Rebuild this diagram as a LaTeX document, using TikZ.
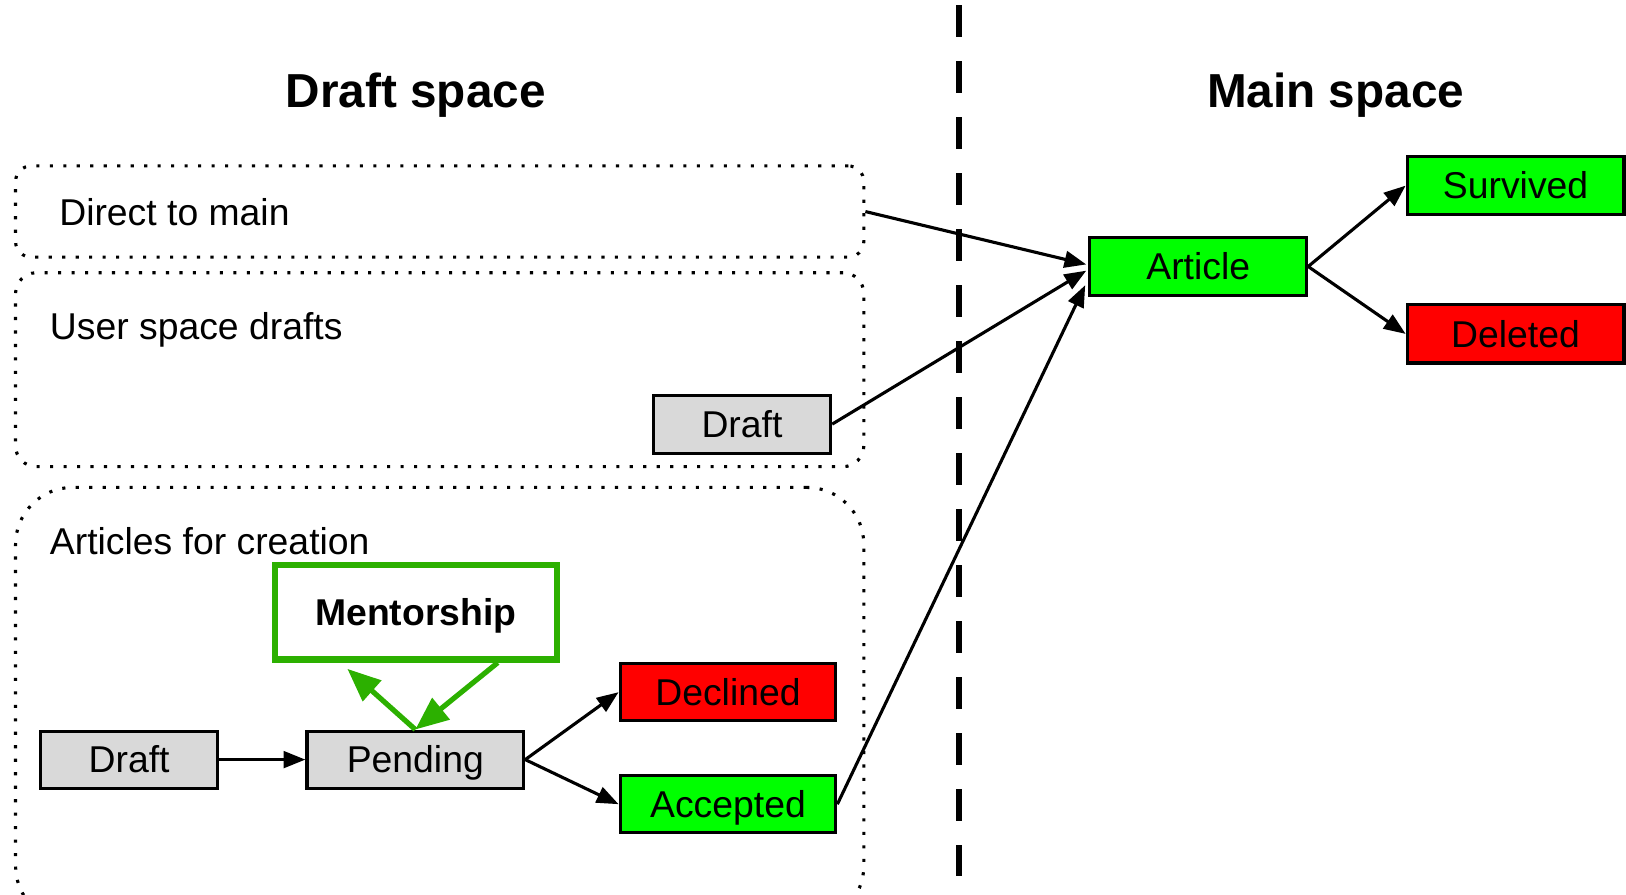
\documentclass[tikz,border=0pt]{standalone}
\usepackage{fontspec}
\setmainfont{Liberation Sans}
\usetikzlibrary{arrows.meta,calc}
\definecolor{boxgray}{RGB}{217,217,217}
\definecolor{okgreen}{RGB}{0,255,0}
\definecolor{badred}{RGB}{255,0,0}
\definecolor{mgreen}{RGB}{44,176,0}
\begin{document}
\begin{tikzpicture}[x=1pt,y=-1pt,
  every node/.style={font=\fontsize{36}{43}\selectfont, inner sep=0pt},
  statebox/.style={draw=black, line width=3pt, minimum height=56pt, text height=25.5pt, text depth=0pt},
  area/.style={draw=black, line width=3pt, dash pattern=on 3pt off 10pt},
  flow/.style={draw=black, line width=3pt, -{Triangle[length=21pt,width=16pt]}},
  mflow/.style={draw=mgreen, line width=5pt, -{Triangle[length=32pt,width=26pt]}},
  title/.style={font=\fontsize{46}{55}\selectfont\bfseries}]
\useasboundingbox (0,0) rectangle (1568,863);

% separator
\draw[line width=6pt, dash pattern=on 31pt off 23pt] (925,5) -- (925,845);

% titles
\node[title] (t1) at (401,92) {Draft space};
\node[title] (t2) at (1288,92) {Main space};

% areas
\node[area, rounded corners=15pt, minimum width=818pt, minimum height=88pt] (dtm) at (424,204) {};
\node[area, rounded corners=20pt, minimum width=818pt, minimum height=187pt] (usd) at (424,356.5) {};
\node[area, rounded corners=55pt, minimum width=818pt, minimum height=420pt] (afc) at (424,680) {};

\node[anchor=west] (l1) at (57,205) {Direct to main};
\node[anchor=west] (l2) at (48,318) {User space drafts};
\node[anchor=west] (l3) at (48,522) {Articles for creation};

% state boxes
\node[statebox, fill=boxgray, minimum width=171pt] (udraft) at (715.5,409) {Draft};
\node[statebox, fill=okgreen, minimum width=209pt] (article) at (1155.5,257) {Article};
\node[statebox, fill=okgreen, minimum width=209pt] (survived) at (1461.5,179) {Survived};
\node[statebox, fill=badred, minimum width=209pt] (deleted) at (1461.5,322) {Deleted};
\node[draw=mgreen, line width=6pt, fill=white, minimum width=272pt, minimum height=91pt,
      text height=25.5pt, text depth=0pt,
      font=\fontsize{36}{43}\selectfont\bfseries] (mentor) at (401,590.5) {Mentorship};
\node[statebox, fill=boxgray, minimum width=171pt, minimum height=55pt] (adraft) at (124.5,732.5) {Draft};
\node[statebox, fill=boxgray, minimum width=209pt, minimum height=55pt] (pending) at (400.5,732.5) {Pending};
\node[statebox, fill=badred, minimum width=208pt, minimum height=55pt] (declined) at (702,667.5) {Declined};
\node[statebox, fill=okgreen, minimum width=208pt, minimum height=55pt] (accepted) at (702,775.5) {Accepted};

% arrow end points
\coordinate (a1) at ($(article.west)+(-2,-2)$);
\coordinate (a2) at ($(article.west)+(-2,4)$);
\coordinate (a3) at ($(article.west)+(-3,18)$);
\coordinate (m1) at ($(mentor.south west)+(73,6)$);
\coordinate (m2) at ($(mentor.south west)+(218,0)$);

% connectors
\draw[flow] (dtm.east) -- (a1);
\draw[flow] (udraft.east) -- (a2);
\draw[flow] (accepted.east) -- (a3);
\draw[flow] (article.east) -- (survived.west);
\draw[flow] (article.east) -- (deleted.west);
\draw[flow] (adraft.east) -- (pending.west);
\draw[flow] (pending.east) -- (declined.west);
\draw[flow] (pending.east) -- (accepted.west);
\draw[mflow] (pending.north) -- (m1);
\draw[mflow] (m2) -- (pending.north);
\end{tikzpicture}
\end{document}
